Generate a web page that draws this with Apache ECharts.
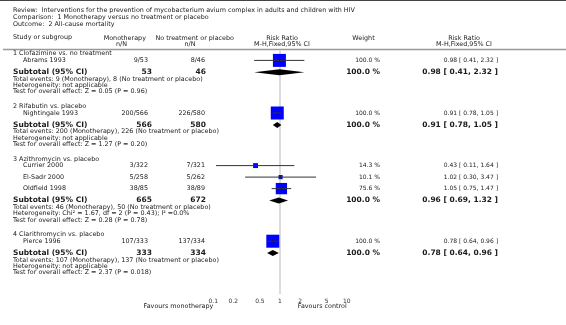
<!DOCTYPE html>
<html><head><meta charset="utf-8">
<script src="https://cdn.jsdelivr.net/npm/echarts@6/dist/echarts.min.js"></script>
<style>html,body{margin:0;padding:0;background:#fff}#c{width:566px;height:325px}</style>
</head><body><div id="c"></div><script>
// ---------- data ----------
const titleLines = [
  'Review:  Interventions for the prevention of mycobacterium avium complex in adults and children with HIV',
  'Comparison:  1 Monotherapy versus no treatment or placebo',
  'Outcome:  2 All-cause mortality'
];
const groupTitles = ['1 Clofazimine vs. no treatment', '2 Rifabutin vs. placebo', '3 Azithromycin vs. placebo', '4 Clarithromycin vs. placebo'];
const studyNames = ['Abrams 1993', 'Nightingale 1993', 'Currier 2000', 'El-Sadr 2000', 'Oldfield 1998', 'Pierce 1996'];
const studyGroup = [0, 1, 2, 2, 2, 3];
const monoEvents = [9, 200, 3, 5, 38, 107];
const monoTotal = [53, 566, 322, 258, 85, 333];
const ctrlEvents = [8, 226, 7, 5, 38, 137];
const ctrlTotal = [46, 580, 321, 262, 89, 334];
const studyWeight = [100.0, 100.0, 14.3, 10.1, 75.6, 100.0];
const studyRR = [0.98, 0.91, 0.43, 1.02, 1.05, 0.78];
const studyLow = [0.41, 0.78, 0.11, 0.30, 0.75, 0.64];
const studyHigh = [2.32, 1.05, 1.64, 3.47, 1.47, 0.96];
const subMonoTotal = [53, 566, 665, 333];
const subCtrlTotal = [46, 580, 672, 334];
const subMonoEvents = [9, 200, 46, 107];
const subCtrlEvents = [8, 226, 50, 137];
const subWeight = [100.0, 100.0, 100.0, 100.0];
const subRR = [0.98, 0.91, 0.96, 0.78];
const subLow = [0.41, 0.78, 0.69, 0.64];
const subHigh = [2.32, 1.05, 1.32, 0.96];
const heterogeneity = ['not applicable', 'not applicable', 'Chi\u00B2 = 1.67, df = 2 (P = 0.43); I\u00B2 =0.0%', 'not applicable'];
const overallEffect = ['Z = 0.05 (P = 0.96)', 'Z = 1.27 (P = 0.20)', 'Z = 0.28 (P = 0.78)', 'Z = 2.37 (P = 0.018)'];
const tickValues = [0.1, 0.2, 0.5, 1, 2, 5, 10];
const tickLabels = ['0.1', '0.2', '0.5', '1', '2', '5', '10'];
const favourLabels = ['Favours monotherapy', 'Favours control'];

// ---------- layout (rows computed from structure) ----------
const FONT = 'DejaVu Sans';
const TXT = '#1a1a1a';
const rows = [];
const studyY = [];
const subY = [];
let y = 53.8;
groupTitles.forEach((t, g) => {
  if (g > 0) y += 14.6;
  rows.push({ kind: 'group', g, y });
  y += 6.6;
  const idx = studyGroup.map((sg, i) => sg === g ? i : -1).filter(i => i >= 0);
  idx.forEach((i, k) => { if (k > 0) y += 11.5; rows.push({ kind: 'study', i, y }); studyY[i] = y; });
  y += 11.9; rows.push({ kind: 'subtotal', g, y }); subY[g] = y;
  y += 6.9; rows.push({ kind: 'events', g, y });
  y += 6.3; rows.push({ kind: 'het', g, y });
  y += 6.3; rows.push({ kind: 'test', g, y });
});

const PX_DEC = 66.7, X_ONE = 280, W = 566;
const xMin = Math.pow(10, -X_ONE / PX_DEC);
const xMax = Math.pow(10, (W - X_ONE) / PX_DEC);

function txt(text, x, yy, align, size, bold) {
  return { type: 'text', style: { text, x, y: yy, align: align || 'left', verticalAlign: 'middle',
    fontSize: size || 6.4, fontFamily: FONT, fontWeight: bold ? 'bold' : 'normal', fill: TXT } };
}
const fmtRR = (r, l, h) => `${r.toFixed(2)} [ ${l.toFixed(2)}, ${h.toFixed(2)} ]`;

const chart = echarts.init(document.getElementById('c'), null, { renderer: 'canvas' });
chart.setOption({
  animation: false,
  backgroundColor: '#fff',
  grid: { left: 0, right: 0, top: 0, bottom: 30 },
  xAxis: {
    type: 'log', logBase: 10, min: xMin, max: xMax,
    axisLine: { show: true, lineStyle: { color: '#444', width: 1 } },
    axisTick: { show: true, inside: true, length: 2, customValues: tickValues, lineStyle: { color: '#444' } },
    axisLabel: { customValues: tickValues, fontSize: 6, fontFamily: FONT, color: '#333', margin: 3,
      formatter: v => { let b = 0; tickValues.forEach((t, k) => { if (Math.abs(Math.log10(t) - Math.log10(v)) < Math.abs(Math.log10(tickValues[b]) - Math.log10(v))) b = k; }); return tickLabels[b]; } },
    splitLine: { show: false }
  },
  yAxis: { type: 'value', min: 0, max: 295, inverse: true, show: false },
  graphic: [
    ...titleLines.map((t, k) => ({ type: 'text', left: 13, top: 7.5 + k * 6.8, style: { text: t, fontSize: 6.4, fontFamily: FONT, fill: TXT } })),
    { type: 'text', left: 13, top: 34.5, style: { text: 'Study or subgroup', fontSize: 6.4, fontFamily: FONT, fill: TXT } },
    { type: 'text', x: 124.8, y: 38, style: { text: 'Monotherapy', align: 'center', verticalAlign: 'middle', fontSize: 6.4, fontFamily: FONT, fill: TXT } },
    { type: 'text', x: 121.5, y: 44, style: { text: 'n/N', align: 'center', verticalAlign: 'middle', fontSize: 6.4, fontFamily: FONT, fill: TXT } },
    { type: 'text', x: 194.7, y: 38, style: { text: 'No treatment or placebo', align: 'center', verticalAlign: 'middle', fontSize: 6.4, fontFamily: FONT, fill: TXT } },
    { type: 'text', x: 190, y: 44, style: { text: 'n/N', align: 'center', verticalAlign: 'middle', fontSize: 6.4, fontFamily: FONT, fill: TXT } },
    { type: 'text', x: 282, y: 38, style: { text: 'Risk Ratio', align: 'center', verticalAlign: 'middle', fontSize: 6.4, fontFamily: FONT, fill: TXT } },
    { type: 'text', x: 282, y: 44, style: { text: 'M-H,Fixed,95% CI', align: 'center', verticalAlign: 'middle', fontSize: 6.4, fontFamily: FONT, fill: TXT } },
    { type: 'text', x: 363.5, y: 38, style: { text: 'Weight', align: 'center', verticalAlign: 'middle', fontSize: 6.4, fontFamily: FONT, fill: TXT } },
    { type: 'text', x: 464, y: 38, style: { text: 'Risk Ratio', align: 'center', verticalAlign: 'middle', fontSize: 6.4, fontFamily: FONT, fill: TXT } },
    { type: 'text', x: 464, y: 44, style: { text: 'M-H,Fixed,95% CI', align: 'center', verticalAlign: 'middle', fontSize: 6.4, fontFamily: FONT, fill: TXT } },
    { type: 'line', shape: { x1: 3, y1: 49.5, x2: 566, y2: 49.5 }, style: { stroke: '#999', lineWidth: 1.5 } }
  ],
  series: [
    { // reference line at RR = 1
      type: 'custom', silent: true, z: 1,
      data: [[1, 50, 295]],
      renderItem: (p, api) => {
        const a = api.coord([api.value(0), api.value(1)]);
        const b = api.coord([api.value(0), api.value(2)]);
        return { type: 'line', shape: { x1: a[0], y1: a[1], x2: b[0], y2: b[1] - 1 }, style: { stroke: '#dcdcdc', lineWidth: 2 } };
      }
    },
    { // table text
      type: 'custom', silent: true, z: 3,
      data: rows.map(r => [1, r.y]),
      renderItem: (p, api) => {
        const r = rows[p.dataIndex];
        const py = api.coord([1, api.value(1)])[1];
        const ch = [];
        if (r.kind === 'group') ch.push(txt(groupTitles[r.g], 13, py));
        else if (r.kind === 'study') {
          const i = r.i;
          ch.push(txt(studyNames[i], 23, py));
          ch.push(txt(`${monoEvents[i]}/${monoTotal[i]}`, 148, py, 'right'));
          ch.push(txt(`${ctrlEvents[i]}/${ctrlTotal[i]}`, 205, py, 'right'));
          ch.push(txt(`${studyWeight[i].toFixed(1)} %`, 380, py, 'right', 6));
          ch.push(txt(fmtRR(studyRR[i], studyLow[i], studyHigh[i]), 498, py, 'right', 6));
        } else if (r.kind === 'subtotal') {
          const g = r.g;
          ch.push(txt('Subtotal (95% CI)', 13, py, 'left', 7.5, true));
          ch.push(txt(String(subMonoTotal[g]), 152, py, 'right', 7.5, true));
          ch.push(txt(String(subCtrlTotal[g]), 206, py, 'right', 7.5, true));
          ch.push(txt(`${subWeight[g].toFixed(1)} %`, 380, py, 'right', 7.5, true));
          ch.push(txt(fmtRR(subRR[g], subLow[g], subHigh[g]), 498, py, 'right', 7.5, true));
        } else if (r.kind === 'events') {
          ch.push(txt(`Total events: ${subMonoEvents[r.g]} (Monotherapy), ${subCtrlEvents[r.g]} (No treatment or placebo)`, 13, py));
        } else if (r.kind === 'het') {
          ch.push(txt(`Heterogeneity: ${heterogeneity[r.g]}`, 13, py));
        } else {
          ch.push(txt(`Test for overall effect: ${overallEffect[r.g]}`, 13, py));
        }
        return { type: 'group', children: ch };
      }
    },
    { // study estimates: CI line + weighted square
      type: 'custom', silent: true, z: 4,
      data: studyRR.map((r, i) => [r, studyLow[i], studyHigh[i], studyY[i], studyWeight[i]]),
      renderItem: (p, api) => {
        const yy = api.value(3);
        const c = api.coord([api.value(0), yy]);
        const l = api.coord([api.value(1), yy]);
        const h = api.coord([api.value(2), yy]);
        const s = 13 * Math.sqrt(api.value(4) / 100);
        return { type: 'group', children: [
          { type: 'rect', shape: { x: c[0] - s / 2, y: c[1] - s / 2, width: s, height: s }, style: { fill: '#0000ff' } },
          { type: 'line', shape: { x1: l[0], y1: c[1], x2: h[0], y2: c[1] }, style: { stroke: '#333', lineWidth: 1 } },
          { type: 'line', shape: { x1: c[0], y1: c[1] - 1.5, x2: c[0], y2: c[1] + 1.5 }, style: { stroke: '#222', lineWidth: 1 } }
        ] };
      }
    },
    { // subtotal diamonds
      type: 'custom', silent: true, z: 4,
      data: subRR.map((r, g) => [r, subLow[g], subHigh[g], subY[g]]),
      renderItem: (p, api) => {
        const yy = api.value(3);
        const c = api.coord([api.value(0), yy]);
        const l = api.coord([api.value(1), yy]);
        const h = api.coord([api.value(2), yy]);
        return { type: 'polygon', shape: { points: [[l[0], c[1]], [c[0], c[1] - 3], [h[0], c[1]], [c[0], c[1] + 3]] }, style: { fill: '#000' } };
      }
    },
    { // favour labels under axis
      type: 'custom', silent: true, z: 3,
      data: [[tickValues[0], 306.5], [tickValues[tickValues.length - 1], 306.5]],
      renderItem: (p, api) => {
        const c = api.coord([api.value(0), api.value(1)]);
        return txt(favourLabels[p.dataIndex], c[0], c[1], 'right', 6.4);
      }
    }
  ]
});
</script></body></html>
